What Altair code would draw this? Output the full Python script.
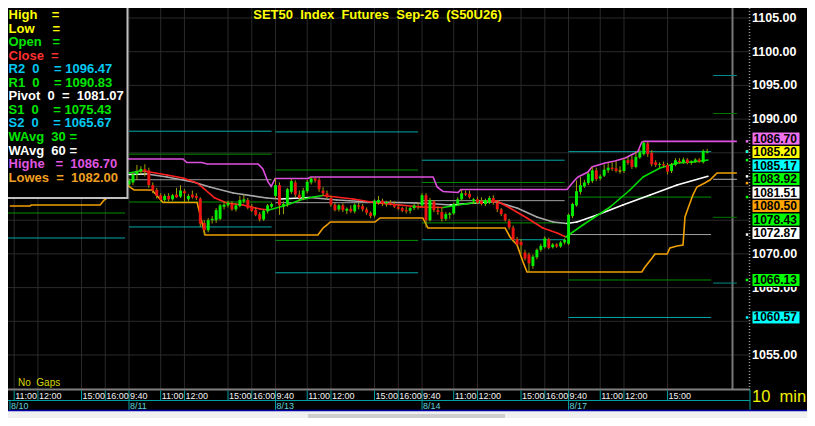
import altair as alt
import pandas as pd

NB = "\u00a0"
FONT = "Liberation Sans"

# ------------------------------------------------------------------ values
chart_title = "SET50" + NB * 2 + "Index" + NB * 2 + "Futures" + NB * 2 + "Sep-26" + NB * 2 + "(S50U26)"
interval_text = "10" + NB * 2 + "min"
gaps_text = "No" + NB * 2 + "Gaps"

day_labels = ["8/10", "8/11", "8/13", "8/14", "8/17"]
day_first_bar = [0, 37, 74, 111, 148]          # 10-minute bar number of each day's 9:40 bar
time_offsets = [0, 8, 14, 25, 31]               # bars after 9:40
time_texts = ["9:40", "11:00", "12:00", "15:00", "16:00"]

# candles (open, high, low, close), one tuple per 10-minute bar
candles_0811 = [
    (1080.3, 1081.2, 1079.8, 1080.9), (1080.6, 1082.0, 1080.2, 1081.8), (1081.8, 1083.2, 1081.0, 1082.2),
    (1082.2, 1083.0, 1081.8, 1082.6), (1082.6, 1083.3, 1081.5, 1082.3), (1082.4, 1082.8, 1079.8, 1080.2),
    (1080.2, 1080.6, 1079.0, 1079.4), (1079.5, 1079.8, 1078.2, 1078.6), (1078.7, 1079.0, 1077.8, 1078.0),
    (1078.0, 1078.9, 1077.6, 1078.6), (1078.6, 1079.0, 1077.8, 1078.1), (1078.1, 1078.9, 1077.9, 1078.7),
    (1078.8, 1079.8, 1078.3, 1078.4), (1078.5, 1080.2, 1078.3, 1079.4), (1079.3, 1079.6, 1077.7, 1079.0),
    (1078.1, 1078.9, 1077.8, 1078.6), (1078.8, 1079.4, 1078.2, 1078.4), (1078.6, 1079.0, 1078.0, 1078.3),
    (1078.2, 1078.4, 1074.0, 1074.5), (1074.6, 1075.0, 1072.8, 1073.5), (1073.5, 1075.3, 1073.2, 1075.0),
    (1075.0, 1075.6, 1074.5, 1075.2), (1075.0, 1076.8, 1074.6, 1076.5), (1075.2, 1077.4, 1075.0, 1077.2),
    (1077.0, 1077.8, 1076.6, 1077.3), (1077.2, 1077.9, 1076.9, 1077.6), (1077.4, 1077.8, 1076.4, 1076.6),
    (1076.6, 1077.5, 1076.3, 1077.2), (1077.1, 1078.6, 1076.9, 1078.0), (1077.8, 1078.8, 1077.5, 1078.1),
    (1078.0, 1078.3, 1076.6, 1076.8), (1077.0, 1077.4, 1076.2, 1076.4), (1076.5, 1076.8, 1075.6, 1075.8),
    (1075.9, 1076.2, 1074.8, 1075.1), (1075.1, 1076.6, 1074.9, 1076.4), (1076.3, 1077.4, 1076.0, 1077.2),
    (1077.0, 1077.6, 1076.8, 1077.4),
]
candles_0813 = [
    (1078.6, 1081.2, 1078.2, 1080.2), (1080.2, 1080.6, 1075.8, 1077.2), (1077.0, 1077.8, 1075.9, 1077.4),
    (1077.4, 1079.8, 1077.0, 1079.6), (1079.2, 1081.1, 1078.9, 1080.8), (1080.6, 1080.9, 1078.4, 1078.8),
    (1078.8, 1079.4, 1077.8, 1078.3), (1078.3, 1079.8, 1078.0, 1079.4), (1079.3, 1081.0, 1079.0, 1080.7),
    (1080.6, 1081.4, 1080.3, 1081.2), (1081.2, 1081.4, 1080.6, 1080.9), (1081.0, 1081.3, 1079.2, 1079.6),
    (1079.4, 1079.9, 1078.6, 1079.0), (1079.0, 1079.4, 1078.2, 1078.4), (1078.3, 1078.6, 1077.0, 1077.3),
    (1077.3, 1077.6, 1076.3, 1076.5), (1076.6, 1077.4, 1076.3, 1077.2), (1077.2, 1077.5, 1076.2, 1076.5),
    (1076.4, 1076.9, 1075.9, 1076.7), (1076.7, 1077.2, 1076.1, 1076.3), (1076.3, 1077.5, 1076.0, 1077.3),
    (1077.2, 1077.6, 1076.6, 1077.0), (1077.1, 1077.4, 1076.3, 1076.6), (1076.6, 1076.9, 1075.8, 1076.1),
    (1076.1, 1076.3, 1075.3, 1075.6), (1075.7, 1078.1, 1075.4, 1077.9), (1077.6, 1078.6, 1077.3, 1078.0),
    (1077.9, 1078.2, 1077.1, 1077.5), (1077.5, 1077.9, 1077.0, 1077.7), (1077.6, 1078.0, 1077.2, 1077.4),
    (1077.4, 1077.8, 1076.8, 1077.0), (1077.0, 1077.3, 1076.5, 1076.7), (1076.8, 1077.0, 1076.2, 1076.4),
    (1076.5, 1077.0, 1076.0, 1076.3), (1076.4, 1077.0, 1076.0, 1076.8), (1076.8, 1077.4, 1076.5, 1077.2),
    (1077.1, 1077.6, 1076.6, 1077.0),
]
candles_0814 = [
    (1077.2, 1079.0, 1076.9, 1078.7), (1078.7, 1079.0, 1073.9, 1075.0), (1075.0, 1078.3, 1074.8, 1078.0),
    (1077.8, 1078.0, 1076.2, 1076.5), (1076.5, 1077.0, 1075.8, 1076.2), (1076.2, 1076.8, 1074.8, 1075.2),
    (1075.2, 1076.2, 1074.9, 1075.9), (1075.8, 1076.2, 1075.2, 1076.0), (1076.0, 1077.6, 1075.8, 1077.4),
    (1077.4, 1078.4, 1077.2, 1078.1), (1078.1, 1079.5, 1077.9, 1079.0), (1079.0, 1079.4, 1078.6, 1078.8),
    (1078.9, 1079.4, 1078.2, 1078.4), (1077.8, 1078.3, 1077.4, 1078.1), (1078.1, 1078.5, 1077.4, 1077.6),
    (1077.9, 1078.4, 1077.2, 1077.4), (1077.4, 1078.2, 1077.1, 1078.0), (1077.6, 1078.6, 1077.4, 1078.3),
    (1078.3, 1078.7, 1077.3, 1077.6), (1077.6, 1077.9, 1076.2, 1076.6), (1076.6, 1076.8, 1075.6, 1075.9),
    (1075.9, 1076.0, 1074.8, 1075.0), (1074.9, 1075.2, 1073.6, 1073.9), (1073.9, 1074.2, 1071.8, 1072.1),
    (1072.2, 1072.5, 1071.2, 1071.4), (1071.8, 1072.2, 1070.0, 1071.3), (1070.2, 1070.6, 1069.0, 1069.3),
    (1069.9, 1070.2, 1067.3, 1068.6), (1068.2, 1069.9, 1067.8, 1069.6), (1069.5, 1070.8, 1069.2, 1070.6),
    (1070.6, 1071.5, 1070.3, 1071.2), (1071.0, 1072.6, 1070.8, 1072.3), (1072.2, 1072.4, 1070.7, 1070.9),
    (1071.0, 1071.6, 1070.8, 1071.4), (1071.4, 1071.6, 1070.9, 1071.1), (1071.1, 1071.9, 1070.9, 1071.7),
    (1071.7, 1072.3, 1071.4, 1072.1),
]
candles_0817 = [
    (1071.5, 1076.0, 1071.3, 1075.8), (1075.6, 1077.6, 1075.3, 1077.4), (1077.2, 1080.9, 1077.0, 1079.3),
    (1079.2, 1081.4, 1078.8, 1080.2), (1080.0, 1081.0, 1079.8, 1080.6), (1080.5, 1082.1, 1080.2, 1081.9),
    (1080.8, 1082.9, 1080.5, 1082.4), (1082.4, 1082.8, 1080.8, 1081.1), (1081.2, 1081.8, 1080.9, 1081.5),
    (1081.6, 1083.3, 1081.4, 1082.5), (1082.4, 1083.5, 1082.0, 1082.8), (1082.8, 1083.6, 1082.3, 1082.6),
    (1082.7, 1083.8, 1082.1, 1082.3), (1082.3, 1083.0, 1081.9, 1082.3), (1082.3, 1084.2, 1082.0, 1083.9),
    (1083.9, 1084.4, 1083.2, 1083.5), (1084.0, 1084.6, 1082.6, 1082.9), (1082.9, 1085.2, 1082.7, 1084.4),
    (1084.3, 1085.5, 1084.1, 1085.1), (1084.8, 1086.7, 1084.6, 1086.5), (1086.4, 1086.6, 1084.4, 1084.8),
    (1085.0, 1085.4, 1083.0, 1083.3), (1083.6, 1083.9, 1082.9, 1083.2), (1083.2, 1083.6, 1082.8, 1083.3),
    (1083.3, 1083.7, 1082.8, 1083.1), (1083.2, 1083.5, 1081.8, 1082.2), (1082.3, 1083.5, 1082.0, 1083.2),
    (1083.2, 1084.2, 1083.0, 1083.9), (1083.8, 1084.2, 1083.4, 1083.6), (1083.6, 1084.3, 1083.4, 1084.0),
    (1084.0, 1084.2, 1083.3, 1083.5), (1083.5, 1083.9, 1083.2, 1083.7), (1083.7, 1084.2, 1083.5, 1084.0),
    (1084.0, 1084.2, 1083.5, 1083.7), (1083.6, 1085.5, 1083.4, 1085.3), (1085.0, 1085.6, 1084.9, 1085.2),
]

# daily pivot levels (first bar, last bar, R2, R1, Pivot, S1, S2); last row = next session
pivot_first = [0, 37, 74, 111, 148, 184.5]
pivot_last = [36, 73, 110, 147, 184, 190.5]
pivot_r2 = [None, 1088.20, 1088.10, 1083.90, 1085.17, 1096.47]
pivot_r1 = [None, 1084.80, 1082.45, 1080.60, 1078.43, 1090.83]
pivot_pp = [None, 1081.00, 1077.60, 1077.90, 1072.87, 1081.07]
pivot_s1 = [1076.07, 1077.70, 1072.00, 1074.60, 1066.13, 1075.43]
pivot_s2 = [1072.36, 1074.00, 1067.20, 1072.10, 1060.57, 1065.67]

# indicator lines (bar, value)
wavg30_bar = [37.0, 39.8, 41.5, 46.6, 50.6, 54.2, 55.7, 58.7, 61.7, 65.8, 70.1, 72.3, 76.9, 80.2, 83.5, 86.0,
              93.6, 99.6, 105.4, 110.5, 116.3, 121.8, 127.4, 129.9, 133.2, 137.5, 141.5, 145.1, 147.3,
              151.6, 158.5, 163.5, 166.8, 171.1, 175.4, 179.4, 183.2]
wavg30_val = [1082.00, 1082.30, 1082.22, 1081.71, 1081.26, 1080.52, 1079.78, 1078.29, 1077.55, 1077.25,
              1076.66, 1076.51, 1077.25, 1078.00, 1078.44, 1078.66, 1078.14, 1077.55, 1077.25, 1076.96,
              1076.88, 1077.40, 1077.85, 1077.84, 1076.81, 1075.33, 1073.84, 1073.10, 1072.51, 1074.29,
              1076.96, 1079.48, 1081.41, 1082.74, 1083.49, 1083.63, 1083.92]
wavg60_bar = [37.0, 41.5, 46.6, 53.2, 57.4, 63.3, 71.8, 75.1, 82.7, 89.5, 97.9, 105.4, 113.0, 118.1, 127.4,
              129.9, 135.0, 140.0, 144.1, 147.6, 150.1, 155.2, 161.7, 168.6, 175.4, 183.2]
wavg60_val = [1081.78, 1081.85, 1081.41, 1080.67, 1079.93, 1079.03, 1078.29, 1078.14, 1078.37, 1078.00,
              1077.70, 1077.63, 1077.48, 1077.25, 1077.70, 1077.69, 1076.81, 1075.47, 1074.73, 1074.51,
              1074.73, 1075.77, 1077.25, 1078.74, 1080.22, 1081.51]
highest_bar = [36.7, 50.6, 51.6, 55.4, 56.7, 69.6, 70.8, 72.1, 72.9, 73.9, 82.2, 82.9, 113.8, 114.8, 116.3,
               120.1, 120.8, 147.6, 149.6, 150.4, 152.9, 153.9, 157.2, 159.7, 162.3, 164.8, 165.5, 166.5,
               167.0, 190.5]
highest_val = [1084.08, 1084.08, 1083.56, 1083.56, 1083.34, 1083.34, 1082.60, 1080.67, 1080.00, 1081.19,
               1081.19, 1081.41, 1081.41, 1079.93, 1079.26, 1079.11, 1079.55, 1079.55, 1080.96, 1081.41,
               1082.15, 1082.89, 1083.49, 1083.78, 1084.23, 1084.97, 1085.20, 1086.60, 1086.70, 1086.70]
lowest_bar = [6.9, 12.0, 12.3, 29.7, 30.7, 36.7, 37.5, 38.3, 42.8, 45.6, 54.2, 56.2, 84.7, 86.0, 87.0, 87.8,
              99.1, 100.4, 111.2, 112.5, 132.0, 133.2, 135.0, 136.5, 137.5, 166.5, 167.3, 169.1, 169.8,
              172.9, 173.6, 175.4, 176.9, 177.4, 178.2, 179.4, 180.4, 182.4, 183.7, 185.5, 190.5]
lowest_val = [1077.11, 1077.11, 1077.25, 1077.25, 1078.00, 1080.22, 1079.78, 1079.48, 1079.48, 1077.63,
              1077.63, 1072.80, 1072.80, 1073.84, 1074.29, 1074.73, 1074.73, 1075.33, 1075.33, 1073.84,
              1073.84, 1072.51, 1071.32, 1068.80, 1067.31, 1067.31, 1068.06, 1069.39, 1069.98, 1069.98,
              1070.87, 1071.17, 1071.32, 1075.47, 1076.81, 1078.74, 1079.93, 1080.52, 1080.96, 1082.00,
              1082.00]
marker_bar = 189.4   # grey vertical marker line

axis_ticks = [1055, 1060, 1065, 1070, 1075, 1080, 1085, 1090, 1095, 1100, 1105]

tag_values = [1086.70, 1085.20, 1085.17, 1083.92, 1081.51, 1080.50, 1078.43, 1072.87, 1066.13, 1060.57]
tag_fills = ["#f070f0", "#ffff00", "#00ffff", "#00ff00", "#ffffff", "#ffa500", "#00ff00", "#ffffff",
             "#00ff00", "#00ffff"]

YEL, GRN, RED, CYN, WHT, MAG, ORA = "#ffff00", "#00e600", "#ff3030", "#00c8f0", "#ffffff", "#e055e0", "#f0a020"
legend_rows = [
    ("High" + NB * 4 + "=", YEL),
    ("Low" + NB * 5 + "=", YEL),
    ("Open" + NB * 3 + "=", GRN),
    ("Close" + NB * 2 + "=", RED),
    ("R2" + NB * 2 + "0" + NB * 4 + "=" + NB + f"{pivot_r2[5]:.2f}", CYN),
    ("R1" + NB * 2 + "0" + NB * 4 + "=" + NB + f"{pivot_r1[5]:.2f}", GRN),
    ("Pivot" + NB * 2 + "0" + NB * 2 + "=" + NB * 2 + f"{pivot_pp[5]:.2f}", WHT),
    ("S1" + NB * 2 + "0" + NB * 4 + "=" + NB + f"{pivot_s1[5]:.2f}", GRN),
    ("S2" + NB * 2 + "0" + NB * 4 + "=" + NB + f"{pivot_s2[5]:.2f}", CYN),
    ("WAvg" + NB * 2 + "30" + NB + "=", GRN),
    ("WAvg" + NB * 2 + "60" + NB + "=", WHT),
    ("Highe" + NB * 3 + "=" + NB * 2 + f"{highest_val[-1]:.2f}", MAG),
    ("Lowes" + NB * 2 + "=" + NB * 2 + f"{lowest_val[-1]:.2f}", ORA),
]

# ------------------------------------------------------------------ scales / layout
X_DOMAIN, X_RANGE = [6.44, 193.82], [0, 742]
Y_DOMAIN, Y_RANGE = [1050.0, 1106.484], [380.7, 0]
XS = alt.Scale(domain=X_DOMAIN, range=X_RANGE, nice=False, zero=False)
YS = alt.Scale(domain=Y_DOMAIN, range=Y_RANGE, nice=False, zero=False)


def X(f):
    return alt.X(f, type="quantitative", scale=XS, axis=None)


def Y(f):
    return alt.Y(f, type="quantitative", scale=YS, axis=None)


def v2p(v):
    return Y_RANGE[0] + (v - Y_DOMAIN[0]) * (Y_RANGE[1] - Y_RANGE[0]) / (Y_DOMAIN[1] - Y_DOMAIN[0])


def p2v(p):
    return Y_DOMAIN[0] + (p - Y_RANGE[0]) * (Y_DOMAIN[1] - Y_DOMAIN[0]) / (Y_RANGE[1] - Y_RANGE[0])


one = pd.DataFrame({"a": [0]})

# candles
rows = []
for d, cs in zip([1, 2, 3, 4], [candles_0811, candles_0813, candles_0814, candles_0817]):
    for k, (o, h, l, c) in enumerate(cs):
        s = day_first_bar[d] + k
        lo, hi = min(o, c), max(o, c)
        if hi - lo < 0.12:
            m = (hi + lo) / 2
            lo, hi = m - 0.07, m + 0.07
        col = "#00ee00" if c > o else ("#ee1414" if c < o else "#d8d800")
        rows.append(dict(s=s, sl=s - 0.37, sr=s + 0.37, high=h, low=l, lo=lo, hi=hi, col=col))
cdf = pd.DataFrame(rows)

# pivots
prow = []
for i in range(len(pivot_first)):
    nxt = i == len(pivot_first) - 1
    cols = {"r2": "#008c8c" if nxt else "#00a8a8", "r1": "#007800" if nxt else "#009000",
            "pp": "#b4b4b4" if nxt else "#a0a0a0", "s1": "#007800" if nxt else "#009000",
            "s2": "#008c8c" if nxt else "#00a8a8"}
    for key, arr in [("r2", pivot_r2), ("r1", pivot_r1), ("pp", pivot_pp), ("s1", pivot_s1), ("s2", pivot_s2)]:
        if arr[i] is not None:
            prow.append(dict(s0=pivot_first[i], s1=pivot_last[i], v=arr[i], col=cols[key]))
pdf = pd.DataFrame(prow)


def slope_segments(bars, vals, up, down):
    out = []
    for i in range(len(bars) - 1):
        out.append(dict(s=bars[i], v=vals[i], s2=bars[i + 1], v2=vals[i + 1],
                        col=up if vals[i + 1] >= vals[i] else down))
    return pd.DataFrame(out)


w30 = slope_segments(wavg30_bar, wavg30_val, "#00dd00", "#ff2020")
w60 = slope_segments(wavg60_bar, wavg60_val, "#ffffff", "#a8a8a8")
hdf = pd.DataFrame({"s": highest_bar, "v": highest_val, "i": range(len(highest_bar))})
ldf = pd.DataFrame({"s": lowest_bar, "v": lowest_val, "i": range(len(lowest_bar))})

# time axis
grid_rows, tlab_rows, dlab_rows = [], [], []
for d, (name, first) in enumerate(zip(day_labels, day_first_bar)):
    for off, txt in zip(time_offsets, time_texts):
        s = first + off
        if s < X_DOMAIN[0] or (d == len(day_labels) - 1 and off == 31):
            continue
        grid_rows.append(dict(s=s))
        tlab_rows.append(dict(s=s, t=txt))
    dlab_rows.append(dict(s=max(first, X_DOMAIN[0] + 0.5), t=name))
gdf = pd.DataFrame(grid_rows)
tdf = pd.DataFrame(tlab_rows)
ddf = pd.DataFrame(dlab_rows)
hgrid = pd.DataFrame({"v": axis_ticks, "t": [f"{v:.2f}" for v in axis_ticks]})

# right side price tags, stacked without overlap
H = 13.5
order = sorted(range(len(tag_values)), key=lambda i: -tag_values[i])
clusters = []
for i in order:
    ideal = v2p(tag_values[i])
    if clusters and ideal < clusters[-1][-1][1] + H:
        clusters[-1].append([i, clusters[-1][-1][1] + H])
    else:
        clusters.append([[i, ideal]])
trows = []
for cl in clusters:
    shift = -2.8 if len(cl) > 1 else 0.0
    for i, p in cl:
        p = p + shift
        trows.append(dict(v=tag_values[i], t=f"{tag_values[i]:.2f}", col=tag_fills[i],
                          vc=p2v(p), vt=p2v(p - 6.5), vb=p2v(p + 6.5), p=p))
tagdf = pd.DataFrame(trows)


# axis labels that sit (almost) fully behind a tag are not drawn (they are hidden in the original)
def hidden(v):
    p = v2p(v)
    return any(abs(p - q) < 7.0 for q in tagdf["p"])


axlab = hgrid[[not hidden(v) for v in hgrid["v"]]]

legdf = pd.DataFrame({"t": [r[0] for r in legend_rows], "col": [r[1] for r in legend_rows],
                      "vy": [p2v(7 + 13.55 * i) for i in range(len(legend_rows))]})

# ------------------------------------------------------------------ layers
layers = []
layers.append(alt.Chart(one).mark_rect(color="#000000").encode(
    x=alt.value(0), x2=alt.value(799), y=alt.value(0), y2=alt.value(402)))
layers.append(alt.Chart(gdf).mark_rule(color="#2a2a2a", strokeWidth=1).encode(
    x=X("s"), y=alt.value(0), y2=alt.value(381)))
layers.append(alt.Chart(hgrid).mark_rule(color="#2a2a2a", strokeWidth=1).encode(
    y=Y("v"), x=alt.value(0), x2=alt.value(742)))
layers.append(alt.Chart(pd.DataFrame({"s": [marker_bar]})).mark_rule(color="#787878", strokeWidth=2).encode(
    x=X("s"), y=alt.value(0), y2=alt.value(381)))
layers.append(alt.Chart(pdf).mark_rule(strokeWidth=1).encode(
    x=X("s0"), x2=alt.X2("s1"), y=Y("v"), color=alt.Color("col:N", scale=None)))
layers.append(alt.Chart(hdf).mark_line(color="#e050e0", strokeWidth=1.6).encode(
    x=X("s"), y=Y("v"), order="i:Q"))
layers.append(alt.Chart(ldf).mark_line(color="#f0a000", strokeWidth=1.6).encode(
    x=X("s"), y=Y("v"), order="i:Q"))
layers.append(alt.Chart(w60).mark_rule(strokeWidth=1.6, strokeCap="round").encode(
    x=X("s"), y=Y("v"), x2=alt.X2("s2"), y2=alt.Y2("v2"), color=alt.Color("col:N", scale=None)))
layers.append(alt.Chart(w30).mark_rule(strokeWidth=1.6, strokeCap="round").encode(
    x=X("s"), y=Y("v"), x2=alt.X2("s2"), y2=alt.Y2("v2"), color=alt.Color("col:N", scale=None)))
layers.append(alt.Chart(cdf).mark_rule(color="#a0a000", strokeWidth=1).encode(
    x=X("s"), y=Y("low"), y2=alt.Y2("high")))
layers.append(alt.Chart(cdf).mark_rect().encode(
    x=X("sl"), x2=alt.X2("sr"), y=Y("lo"), y2=alt.Y2("hi"), color=alt.Color("col:N", scale=None)))

# legend box
layers.append(alt.Chart(one).mark_rect(color="#000000", stroke="#c0c0c0", strokeWidth=2).encode(
    x=alt.value(-3), x2=alt.value(119.5), y=alt.value(-4), y2=alt.value(190)))
layers.append(alt.Chart(legdf).mark_text(align="left", baseline="middle", font=FONT, fontSize=13,
                                         fontWeight="bold").encode(
    x=alt.value(0.5), y=Y("vy"), text="t:N", color=alt.Color("col:N", scale=None)))

# title
layers.append(alt.Chart(one).mark_text(align="center", baseline="middle", font=FONT, fontSize=13,
                                       fontWeight="bold", color="#ffff00").encode(
    x=alt.value(369.5), y=alt.value(6.6), text=alt.value(chart_title)))

# bottom time axis band
layers.append(alt.Chart(one).mark_text(align="left", baseline="middle", font=FONT, fontSize=10,
                                       color="#d8d800").encode(
    x=alt.value(10), y=alt.value(375), text=alt.value(gaps_text)))
layers.append(alt.Chart(one).mark_rule(color="#808080", strokeWidth=2).encode(
    x=alt.value(0), x2=alt.value(742), y=alt.value(381.5)))
layers.append(alt.Chart(one).mark_rule(color="#00a0a0", strokeWidth=1).encode(
    x=alt.value(0), x2=alt.value(742), y=alt.value(392.5)))
layers.append(alt.Chart(tdf).mark_rule(color="#00a0a0", strokeWidth=1).encode(
    x=X("s"), y=alt.value(382.5), y2=alt.value(392.5)))
layers.append(alt.Chart(tdf).mark_text(align="left", baseline="middle", font=FONT, fontSize=9,
                                       color="#f2f2f2", dx=1).encode(
    x=X("s"), y=alt.value(388), text="t:N"))
layers.append(alt.Chart(ddf).mark_rule(color="#00a0a0", strokeWidth=1).encode(
    x=X("s"), y=alt.value(392.5), y2=alt.value(402)))
layers.append(alt.Chart(ddf).mark_text(align="left", baseline="middle", font=FONT, fontSize=9,
                                       color="#60d0d8", dx=1).encode(
    x=X("s"), y=alt.value(397.5), text="t:N"))
layers.append(alt.Chart(one).mark_rule(color="#00a0a0", strokeWidth=1).encode(
    x=alt.value(742), y=alt.value(381.5), y2=alt.value(402)))
layers.append(alt.Chart(one).mark_text(align="left", baseline="middle", font=FONT, fontSize=16.5,
                                       color="#f0f000").encode(
    x=alt.value(744), y=alt.value(389), text=alt.value(interval_text)))

# right price axis
layers.append(alt.Chart(one).mark_rule(color="#9a9a9a", strokeWidth=1.5, strokeDash=[1, 2]).encode(
    x=alt.value(741.5), y=alt.value(0), y2=alt.value(381)))
layers.append(alt.Chart(axlab).mark_text(align="left", baseline="middle", font=FONT, fontSize=12.5,
                                         fontWeight="bold", color="#ffffff").encode(
    x=alt.value(744), y=Y("v"), text="t:N"))
layers.append(alt.Chart(tagdf).mark_square(size=6, opacity=1).encode(
    x=alt.value(739), y=Y("v"), color=alt.Color("col:N", scale=None)))
layers.append(alt.Chart(tagdf).mark_rect(stroke="#000000", strokeWidth=1).encode(
    x=alt.value(744), x2=alt.value(792), y=Y("vt"), y2=alt.Y2("vb"), color=alt.Color("col:N", scale=None)))
layers.append(alt.Chart(tagdf).mark_text(align="left", baseline="middle", font=FONT, fontSize=12,
                                         fontWeight="bold", color="#000000").encode(
    x=alt.value(745.5), y=Y("vc"), text="t:N"))

# window border and scrollbar strip
layers.append(alt.Chart(one).mark_rule(color="#0000a8", strokeWidth=1.5).encode(
    x=alt.value(0), x2=alt.value(799), y=alt.value(402.5)))
layers.append(alt.Chart(one).mark_rect(color="#cdcdcd").encode(
    x=alt.value(300), x2=alt.value(497), y=alt.value(406), y2=alt.value(412)))

chart = alt.layer(*layers).properties(
    width=799, height=410, padding=0,
    autosize=alt.AutoSizeParams(type="none"),
    background="#f0f0f0",
).configure_view(stroke=None)

chart.save("out.html", embed_options={"renderer": "svg", "actions": False})
